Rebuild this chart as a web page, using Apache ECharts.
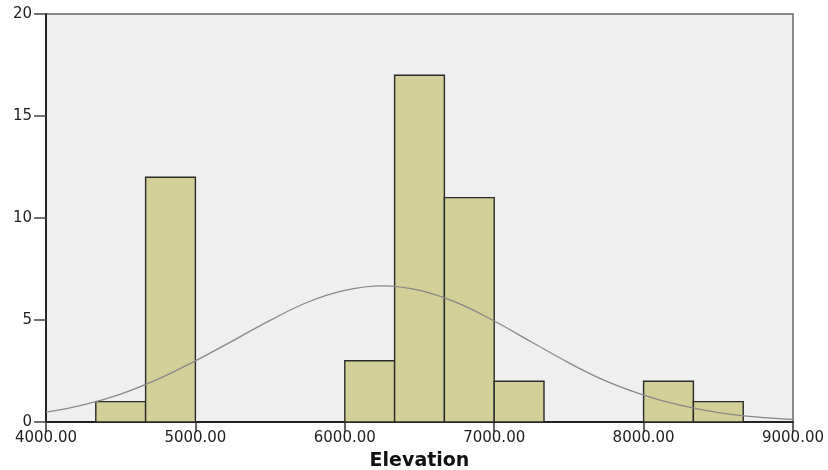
<!DOCTYPE html>
<html>
<head>
<meta charset="utf-8">
<script src="https://cdn.jsdelivr.net/npm/echarts@6/dist/echarts.min.js"></script>
<style>
html,body{margin:0;padding:0;background:#ffffff;}
#chart{width:828px;height:470px;}
</style>
</head>
<body>
<div id="chart"></div>
<script>
// Histogram bins (Elevation)
var binStart = [4333.33, 4666.67, 6000.00, 6333.33, 6666.67, 7000.00, 8000.00, 8333.33];
var binEnd   = [4666.67, 5000.00, 6333.33, 6666.67, 7000.00, 7333.33, 8333.33, 8666.67];
var counts   = [1, 12, 3, 17, 11, 2, 2, 1];

// Normal curve, values
var curveX = [4000, 4250, 4500, 4750, 5000, 5250, 5500, 5750, 6000, 6250, 6500, 6750, 7000, 7250, 7500, 7750, 8000, 8250, 8500, 8750, 9000];
var curveY = [0.48, 0.84, 1.37, 2.1, 3.0, 3.98, 4.98, 5.87, 6.45, 6.67, 6.45, 5.85, 4.95, 3.92, 2.9, 2.0, 1.32, 0.81, 0.46, 0.25, 0.13];

var xTicks = {min: 4000, max: 9000, interval: 1000};
var yTicks = {min: 0, max: 20, interval: 5};

var barData = binStart.map(function (s, i) { return [s, binEnd[i], counts[i]]; });
var lineData = curveX.map(function (x, i) { return [x, curveY[i]]; });

var chart = echarts.init(document.getElementById('chart'));
var labelFont = {fontFamily: 'DejaVu Sans', fontSize: 15, color: '#222'};
chart.setOption({
  animation: false,
  backgroundColor: '#ffffff',
  grid: {
    left: 46, right: 35, top: 14, bottom: 48,
    containLabel: false,
    outerBoundsMode: 'none',
    show: true, backgroundColor: '#efefef', borderColor: '#666', borderWidth: 1.5
  },
  xAxis: {
    type: 'value',
    min: xTicks.min, max: xTicks.max, interval: xTicks.interval,
    name: 'Elevation',
    nameLocation: 'middle',
    nameGap: 30,
    nameTextStyle: {fontFamily: 'DejaVu Sans', fontWeight: 'bold', fontSize: 19, color: '#111'},
    axisLine: {show: true, lineStyle: {color: '#222', width: 2}},
    axisTick: {show: true, inside: false, length: 10, lineStyle: {color: '#333', width: 1.5}},
    axisLabel: Object.assign({margin: 9, formatter: function (v) { return v.toFixed(2); }}, labelFont),
    splitLine: {show: false}
  },
  yAxis: {
    type: 'value',
    min: yTicks.min, max: yTicks.max, interval: yTicks.interval,
    axisLine: {show: true, lineStyle: {color: '#222', width: 2}},
    axisTick: {show: true, length: 12, lineStyle: {color: '#444', width: 1.5}},
    axisLabel: Object.assign({margin: 14}, labelFont),
    splitLine: {show: false}
  },
  series: [
    {
      type: 'custom',
      data: barData,
      encode: {x: [0, 1], y: 2},
      z: 2,
      renderItem: function (params, api) {
        var p0 = api.coord([api.value(0), api.value(2)]);
        var p1 = api.coord([api.value(1), 0]);
        return {
          type: 'rect',
          shape: {x: p0[0], y: p0[1], width: p1[0] - p0[0], height: p1[1] - p0[1]},
          style: {fill: '#d3cf98', stroke: '#2a2a2a', lineWidth: 1.4}
        };
      }
    },
    {
      type: 'line',
      data: lineData,
      smooth: 0.4,
      showSymbol: false,
      z: 5,
      lineStyle: {color: '#888888', width: 1.3}
    }
  ]
});
</script>
</body>
</html>
